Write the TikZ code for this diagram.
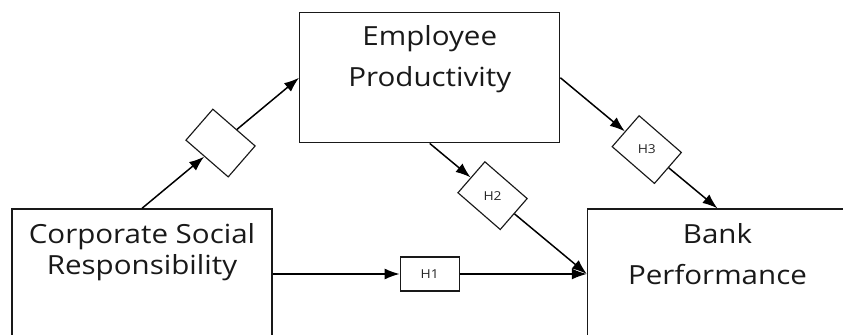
\documentclass[tikz,border=0pt]{standalone}
\usepackage{fontspec}
\setmainfont{Open Sans}[FakeStretch=1.12]
\usetikzlibrary{arrows.meta, positioning, calc}
\tikzset{
  varbox/.style={rectangle, draw=black!90, line width=0.75pt,
    minimum width=5.2cm, minimum height=2.6cm},
  varlabel/.style={anchor=north, align=center, text=black!90,
    font=\fontsize{15}{23.5}\selectfont},
  hypbox/.style={rectangle, draw=black!90, line width=0.65pt, minimum width=1.18cm,
    minimum height=0.68cm, text=black!85, font=\fontsize{7}{8}\selectfont},
  hypdiamond/.style={hypbox, rotate=-41, minimum width=1.12cm, minimum height=0.82cm},
  arrow/.style={-{Latex[length=0.3cm, width=0.22cm]}, line width=0.85pt}
}

\begin{document}
\begin{tikzpicture}[node distance=2.54cm]
\clip (0,0) rectangle (16.86,6.7);
\node (csr)  [varbox, label={[varlabel, font=\fontsize{15}{17.8}\selectfont, yshift=-0.17cm]north:Corporate Social\\Responsibility}] at (2.84,1.22) {};
\node (h1)   [hypbox, right=of csr]   {H1};
\node (bank) [varbox, right=of h1, label={[varlabel, yshift=-0.17cm]north:Bank\\Performance}] {};
\node (ep)   [varbox, above=2.26cm of h1, label={[varlabel, yshift=-0.14cm]north:Employee\\Productivity}] {};
\node (med)  [hypdiamond] at ($(csr.north)!0.5!(ep.west)$)  {};
\node (h2)   [hypdiamond] at ($(ep.south)!0.4!(bank.west)$) {\rotatebox{41}{H2}};
\node (h3)   [hypdiamond] at ($(ep.east)!0.55!(bank.north)$) {\rotatebox{41}{H3}};

\draw [arrow] (csr.north) -- (med);
\draw [arrow] (med)       -- (ep.west);
\draw [arrow] (csr.east)  -- (h1);
\draw [arrow] (h1)        -- (bank.west);
\draw [arrow] (ep.south)  -- (h2);
\draw [arrow] (h2)        -- (bank.west);
\draw [arrow] (ep.east)   -- (h3);
\draw [arrow] (h3)        -- (bank.north);
\end{tikzpicture}
\end{document}
